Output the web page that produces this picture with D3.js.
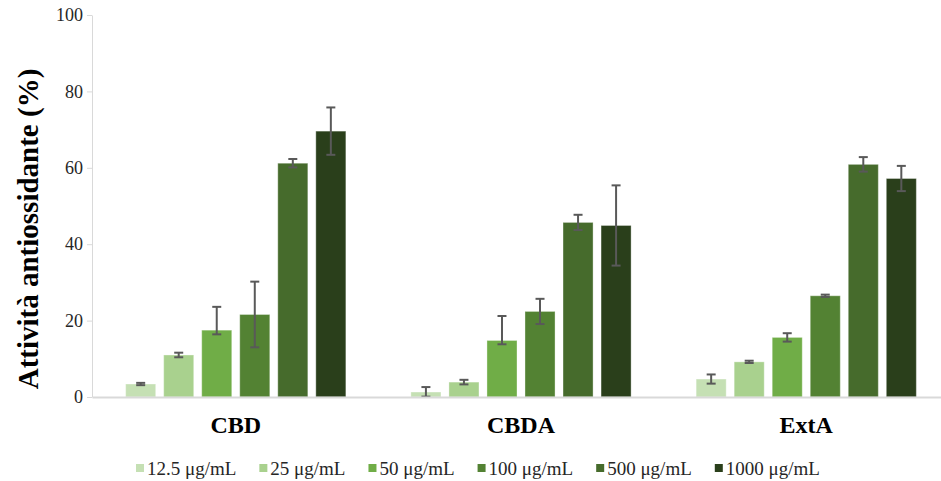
<!DOCTYPE html>
<html>
<head>
<meta charset="utf-8">
<script src="https://cdn.jsdelivr.net/npm/d3@7"></script>
<style>
  body { margin: 0; background: #fff; overflow: hidden; }
  svg text { font-family: "Liberation Serif", "Times New Roman", serif; }
</style>
</head>
<body>
<div id="chart"></div>
<script>
// dati
const categories = ["CBD", "CBDA", "ExtA"];
const concentrations = ["12.5 μg/mL", "25 μg/mL", "50 μg/mL", "100 μg/mL", "500 μg/mL", "1000 μg/mL"];
const yTicks = [0, 20, 40, 60, 80, 100];

const valCBD  = [3.4, 11.0, 17.5, 21.6, 61.2, 69.6];
const valCBDA = [1.3, 3.9, 14.8, 22.4, 45.7, 44.9];
const valExtA = [4.7, 9.2, 15.6, 26.5, 60.9, 57.2];

// barre di errore (sopra / sotto)
const errUpCBD    = [0.3, 0.6, 6.1, 8.6, 1.1, 6.2];
const errDownCBD  = [0.3, 0.6, 1.1, 8.6, 1.1, 6.2];
const errUpCBDA   = [1.3, 0.6, 6.4, 3.3, 2.0, 10.5];
const errDownCBDA = [1.2, 0.6, 1.0, 3.3, 2.0, 10.5];
const errUpExtA   = [1.2, 0.3, 1.1, 0.3, 1.9, 3.3];
const errDownExtA = [1.2, 0.3, 1.1, 0.3, 1.9, 3.3];

const colors = ["#c5e0b4", "#a9d18e", "#70ad47", "#538233", "#466b2c", "#2a3f1b"];

const W = 941, H = 481;
// l'area del grafico esce leggermente dal bordo destro (come nell'originale)
const margin = { top: 15, right: -9, bottom: 84, left: 92 };

const svg = d3.select("#chart").append("svg")
  .attr("width", W).attr("height", H);

// costruisco la tabella
const values = [valCBD, valCBDA, valExtA];
const ups    = [errUpCBD, errUpCBDA, errUpExtA];
const downs  = [errDownCBD, errDownCBDA, errDownExtA];
const data = categories.map((c, i) => ({
  cat: c,
  bars: concentrations.map((s, j) => ({ s, v: values[i][j], up: ups[i][j], dn: downs[i][j] }))
}));

const x0 = d3.scaleBand()
  .domain(categories)
  .range([margin.left, W - margin.right])
  .paddingInner(0.228)
  .paddingOuter(0.118);

const x1 = d3.scaleBand()
  .domain(concentrations)
  .range([0, x0.bandwidth()])
  .paddingInner(0.21);

const y = d3.scaleLinear()
  .domain([0, 100])
  .range([H - margin.bottom, margin.top]);

const color = d3.scaleOrdinal().domain(concentrations).range(colors);

// asse Y
const yAxis = svg.append("g")
  .attr("transform", `translate(${margin.left},0)`)
  .call(d3.axisLeft(y).tickValues(yTicks).tickSize(5).tickSizeOuter(0).tickPadding(4));
yAxis.select(".domain").attr("stroke", "#d9d9d9");
yAxis.selectAll(".tick line").attr("stroke", "#d9d9d9");
yAxis.selectAll(".tick text")
  .attr("fill", "#262626")
  .style("font-size", "18px");

// barre
const groups = svg.append("g").selectAll("g")
  .data(data).enter().append("g")
    .attr("transform", d => `translate(${x0(d.cat)},0)`);

groups.selectAll("rect")
  .data(d => d.bars).enter().append("rect")
    .attr("x", d => x1(d.s))
    .attr("y", d => y(d.v))
    .attr("width", x1.bandwidth())
    .attr("height", d => y(0) - y(d.v))
    .attr("fill", d => color(d.s))
    .attr("stroke", "#ffffff")
    .attr("stroke-opacity", 0.35)
    .attr("stroke-width", 1);

// barre di errore
const eb = groups.selectAll("g.err")
  .data(d => d.bars).enter().append("g")
    .attr("class", "err")
    .attr("stroke", "#595959")
    .attr("stroke-width", 2);
const cx = d => x1(d.s) + x1.bandwidth() / 2;
const lo = d => y(Math.max(0, d.v - d.dn));
const hi = d => y(d.v + d.up);
eb.append("line")
  .attr("x1", cx).attr("x2", cx)
  .attr("y1", lo).attr("y2", hi);
eb.append("line")
  .attr("x1", d => cx(d) - 4.5).attr("x2", d => cx(d) + 4.5)
  .attr("y1", hi).attr("y2", hi);
eb.append("line")
  .attr("x1", d => cx(d) - 4.5).attr("x2", d => cx(d) + 4.5)
  .attr("y1", lo).attr("y2", lo);

// asse X
const xAxis = svg.append("g")
  .attr("transform", `translate(0,${y(0)})`)
  .call(d3.axisBottom(x0).tickSize(0).tickSizeOuter(0).tickPadding(19));
xAxis.select(".domain").attr("stroke", "#d9d9d9").attr("stroke-width", 2);
xAxis.selectAll(".tick text")
  .attr("fill", "#000")
  .style("font-size", "24px")
  .style("font-weight", "bold");

// titolo asse Y
svg.append("text")
  .attr("transform", "rotate(-90)")
  .attr("x", -229)
  .attr("y", 38)
  .attr("text-anchor", "middle")
  .style("font-size", "29px")
  .style("font-weight", "bold")
  .attr("fill", "#000")
  .text("Attività antiossidante (%)");

// legenda
const legend = svg.append("g").attr("transform", `translate(136,${H - 6})`);
let lx = 0;
concentrations.forEach(c => {
  const g = legend.append("g").attr("transform", `translate(${lx},0)`);
  g.append("rect")
    .attr("x", 0).attr("y", -11)
    .attr("width", 8).attr("height", 8)
    .attr("fill", color(c));
  const t = g.append("text")
    .attr("x", 11).attr("y", 0)
    .attr("fill", "#262626")
    .style("font-size", "19px")
    .text(c);
  lx += 11 + t.node().getComputedTextLength() + 23;
});
</script>
</body>
</html>
